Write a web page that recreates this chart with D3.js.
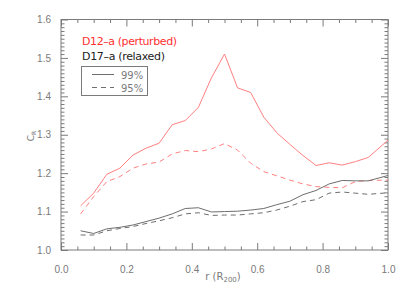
<!DOCTYPE html>
<html>
<head>
<meta charset="utf-8">
<script src="https://cdn.jsdelivr.net/npm/d3@7"></script>
<style>
  body { margin: 0; background: #fff; }
  svg { display: block; font-family: "DejaVu Sans", sans-serif; }
  .axis path, .axis line { stroke: #7a7a7a; stroke-width: 1; }
  .axis text { fill: #7a7a7a; font-size: 10px; }
</style>
</head>
<body>
<svg id="chart" width="407" height="291"></svg>
<script>
"use strict";

// radius bins (R200)
const radii = [0.06, 0.10, 0.14, 0.18, 0.22, 0.26, 0.30, 0.34, 0.38, 0.42, 0.46, 0.50,
               0.54, 0.58, 0.62, 0.66, 0.70, 0.74, 0.78, 0.82, 0.86, 0.90, 0.94, 1.00];

// D12-a (perturbed)
const pert99 = [1.115, 1.148, 1.197, 1.213, 1.247, 1.265, 1.278, 1.326, 1.337, 1.371, 1.448, 1.510,
                1.422, 1.410, 1.346, 1.305, 1.275, 1.246, 1.220, 1.227, 1.221, 1.230, 1.241, 1.286];
const pert95 = [1.094, 1.139, 1.178, 1.191, 1.213, 1.224, 1.229, 1.250, 1.259, 1.256, 1.263, 1.277,
                1.260, 1.226, 1.204, 1.193, 1.182, 1.172, 1.165, 1.163, 1.162, 1.178, 1.181, 1.182];

// D17-a (relaxed)
const relax99 = [1.050, 1.043, 1.055, 1.059, 1.065, 1.074, 1.083, 1.094, 1.108, 1.110, 1.099, 1.100,
                 1.101, 1.104, 1.108, 1.118, 1.127, 1.144, 1.155, 1.172, 1.181, 1.180, 1.180, 1.194];
const relax95 = [1.039, 1.039, 1.050, 1.056, 1.061, 1.069, 1.076, 1.084, 1.094, 1.097, 1.090, 1.091,
                 1.091, 1.094, 1.097, 1.104, 1.114, 1.126, 1.131, 1.148, 1.151, 1.148, 1.145, 1.149];

const xTicks = [0.0, 0.2, 0.4, 0.6, 0.8, 1.0];
const yTicks = [1.0, 1.1, 1.2, 1.3, 1.4, 1.5, 1.6];

const red = "#ff8080";
const grey = "#6e6e6e";

const svg = d3.select("#chart");
const mLeft = 61, mRight = 388, mTop = 19.5, mBottom = 250;

const x = d3.scaleLinear().domain([0, 1]).range([mLeft, mRight]);
const y = d3.scaleLinear().domain([1.0, 1.6]).range([mBottom, mTop]);

const xMinor = d3.range(0, 1.0001, 0.05).filter(v => Math.abs(v * 5 - Math.round(v * 5)) > 1e-6);
const yMinor = d3.range(1.0, 1.6001, 0.01).filter(v => Math.abs(v * 10 - Math.round(v * 10)) > 1e-6);

const fmt = d3.format(".1f");

// bottom / top
svg.append("g").attr("class", "axis").attr("transform", `translate(0,${mBottom})`)
    .call(d3.axisBottom(x).tickValues(xTicks).tickFormat(fmt).tickSizeInner(-7).tickSizeOuter(0).tickPadding(16));
svg.append("g").attr("class", "axis").attr("transform", `translate(0,${mBottom})`)
    .call(d3.axisBottom(x).tickValues(xMinor).tickFormat("").tickSizeInner(-3.5).tickSizeOuter(0));
svg.append("g").attr("class", "axis").attr("transform", `translate(0,${mTop})`)
    .call(d3.axisTop(x).tickValues(xTicks).tickFormat("").tickSizeInner(-7).tickSizeOuter(0));
svg.append("g").attr("class", "axis").attr("transform", `translate(0,${mTop})`)
    .call(d3.axisTop(x).tickValues(xMinor).tickFormat("").tickSizeInner(-3.5).tickSizeOuter(0));

// left / right
svg.append("g").attr("class", "axis").attr("transform", `translate(${mLeft},0)`)
    .call(d3.axisLeft(y).tickValues(yTicks).tickFormat(fmt).tickSizeInner(-7).tickSizeOuter(0).tickPadding(10));
svg.append("g").attr("class", "axis").attr("transform", `translate(${mLeft},0)`)
    .call(d3.axisLeft(y).tickValues(yMinor).tickFormat("").tickSizeInner(-3.5).tickSizeOuter(0));
svg.append("g").attr("class", "axis").attr("transform", `translate(${mRight},0)`)
    .call(d3.axisRight(y).tickValues(yTicks).tickFormat("").tickSizeInner(-7).tickSizeOuter(0));
svg.append("g").attr("class", "axis").attr("transform", `translate(${mRight},0)`)
    .call(d3.axisRight(y).tickValues(yMinor).tickFormat("").tickSizeInner(-3.5).tickSizeOuter(0));

svg.selectAll(".axis .domain").remove();
svg.append("rect").attr("x", mLeft).attr("y", mTop)
    .attr("width", mRight - mLeft).attr("height", mBottom - mTop)
    .attr("fill", "none").attr("stroke", "#7a7a7a");

// curves
const line = d3.line().x((d, i) => x(radii[i])).y(d => y(d));
const series = [
    { values: pert99, color: red, dash: null },
    { values: pert95, color: red, dash: "5,4" },
    { values: relax99, color: grey, dash: null },
    { values: relax95, color: grey, dash: "5,4" }
];
svg.selectAll("path.curve")
    .data(series)
    .enter()
    .append("path")
    .attr("class", "curve")
    .attr("d", d => line(d.values))
    .attr("fill", "none")
    .attr("stroke", d => d.color)
    .attr("stroke-width", 1)
    .attr("stroke-dasharray", d => d.dash);

// axis titles
const xt = svg.append("text").attr("x", 223).attr("y", 280)
    .attr("text-anchor", "middle").attr("fill", "#7a7a7a").attr("font-size", "10px");
xt.append("tspan").text("r (R");
xt.append("tspan").attr("font-size", "7px").attr("dy", 2).text("200");
xt.append("tspan").attr("dy", -2).text(")");

const yt = svg.append("text").attr("transform", "translate(34,136) rotate(-90)")
    .attr("text-anchor", "middle").attr("fill", "#7a7a7a").attr("font-size", "9px");
yt.append("tspan").text("C");
yt.append("tspan").attr("font-size", "6px").attr("dy", 2).text("R");

// labels and legend
svg.append("text").attr("x", 82).attr("y", 45).attr("fill", "#ff3030")
    .attr("font-size", "11px").attr("textLength", 95).text("D12\u2013a (perturbed)");
svg.append("text").attr("x", 82).attr("y", 60).attr("fill", "#222")
    .attr("font-size", "11px").attr("textLength", 83).text("D17\u2013a (relaxed)");

svg.append("rect").attr("x", 81.5).attr("y", 66.5).attr("width", 66).attr("height", 29)
    .attr("fill", "none").attr("stroke", "#7a7a7a");
const legend = [{ label: "99%", dash: null, yy: 74.5 }, { label: "95%", dash: "5,4", yy: 87.5 }];
legend.forEach(l => {
    svg.append("line").attr("x1", 92).attr("x2", 114).attr("y1", l.yy).attr("y2", l.yy)
        .attr("stroke", grey).attr("stroke-dasharray", l.dash);
    svg.append("text").attr("x", 121).attr("y", l.yy + 4).attr("fill", "#7a7a7a")
        .attr("font-size", "10px").text(l.label);
});
</script>
</body>
</html>
